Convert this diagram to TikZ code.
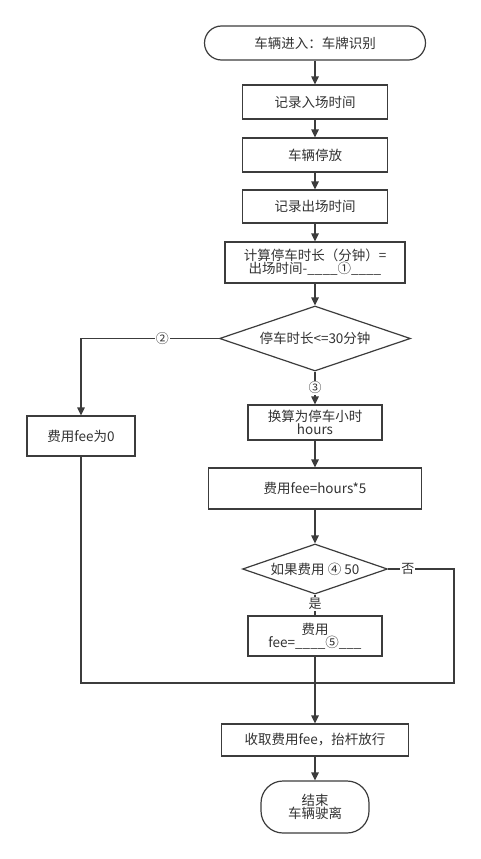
\documentclass[tikz,border=0pt]{standalone}
\usepackage{fontspec}
\setmainfont{Noto Sans CJK SC}
\usetikzlibrary{arrows.meta,shapes.geometric}
\definecolor{ln}{HTML}{3C3C3C}
\definecolor{tx}{HTML}{333333}
\begin{document}
\begin{tikzpicture}[x=1pt,y=-1pt,
  font=\fontsize{13.5}{16}\selectfont,
  every node/.style={text=tx},
  box/.style={draw=ln,line width=1.2pt,rectangle,inner sep=0pt,align=center},
  term/.style={draw=ln,line width=1.2pt,rectangle,inner sep=0pt,align=center},
  dia/.style={draw=ln,line width=1.2pt,diamond,inner sep=0pt,align=center},
  conn/.style={draw=ln,line width=1.2pt},
  arr/.style={conn,-{Triangle[length=8pt,width=7.5pt]}},
  lab/.style={fill=white,inner sep=1pt,font=\fontsize{13}{14}\selectfont}]
\useasboundingbox[fill=white] (0,0) rectangle (481,859);
\node[term,rounded corners=17pt,minimum width=221pt,minimum height=34pt] (start) at (315,43) {车辆进入：车牌识别};
\node[box,minimum width=145pt,minimum height=34pt] (b1) at (315,102) {记录入场时间};
\node[box,minimum width=145pt,minimum height=34pt] (b2) at (315,155) {车辆停放};
\node[box,minimum width=145pt,minimum height=33pt] (b3) at (315,206.5) {记录出场时间};
\node[box,minimum width=180pt,minimum height=41pt] (b4) at (315,262.5) {计算停车时长（分钟）=\\[-3pt]出场时间-\_\_\_\_①\_\_\_\_};
\node[dia,minimum width=191pt,minimum height=65pt,aspect=2.94] (d1) at (315,338.5) {停车时长<=30分钟};
\node[box,minimum width=108pt,minimum height=40pt] (b0) at (81,436) {费用fee为0};
\node[box,minimum width=134pt,minimum height=35pt] (b5) at (315,422.5) {换算为停车小时\\[-3pt]hours};
\node[box,minimum width=213pt,minimum height=41pt] (b6) at (315,488.5) {费用fee=hours*5};
\node[dia,minimum width=145pt,minimum height=50pt,aspect=2.9] (d2) at (315,569) {如果费用 ④ 50};
\node[box,minimum width=134pt,minimum height=40pt] (b7) at (315,636) {费用\\[-3pt]fee=\_\_\_\_⑤\_\_\_};
\node[box,minimum width=187pt,minimum height=32pt] (b8) at (315,740) {收取费用fee，抬杆放行};
\node[term,rounded corners=22pt,minimum width=108pt,minimum height=52pt] (end) at (315,807) {结束\\[-3pt]车辆驶离};
\coordinate (m) at (315,683);
\coordinate (lc) at (81,338.5);
\coordinate (lb) at (81,683);
\coordinate (rc) at (454,569);
\coordinate (rb) at (454,683);
\draw[arr] (start) -- (b1);
\draw[arr] (b1) -- (b2);
\draw[arr] (b2) -- (b3);
\draw[arr] (b3) -- (b4);
\draw[arr] (b4) -- (d1);
\draw[arr] (d1.west) -- node[lab,pos=0.41]{②} (lc) -- (b0.north);
\draw[arr] (d1.south) -- node[lab,pos=0.5]{③} (b5.north);
\draw[arr] (b5) -- (b6);
\draw[arr] (b6) -- (d2);
\draw[conn] (d2.south) -- node[lab,pos=0.45]{是} (b7.north);
\draw[conn] (d2.east) -- node[lab,pos=0.3]{否} (rc) -- (rb) -- (m);
\draw[conn] (b0.south) -- (lb) -- (m);
\draw[arr] (b7.south) -- (b8.north);
\draw[arr] (b8) -- (end);
\end{tikzpicture}
\end{document}
